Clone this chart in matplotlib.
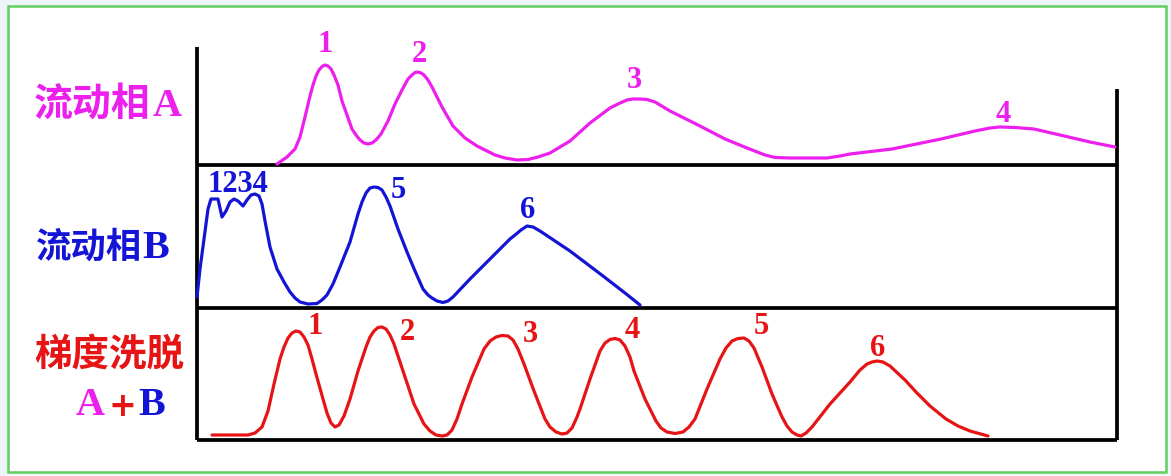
import matplotlib
matplotlib.use("Agg")
import matplotlib.pyplot as plt
from matplotlib.patches import Rectangle

# ---------------- data (time units, signal units) ----------------
# Mobile phase A chromatogram (magenta)
a_time = [80, 90, 98, 103, 108, 113, 116, 119, 122, 125, 128, 131, 134, 137, 141, 145,
          150, 155, 159, 163, 167, 171, 175, 179, 184, 191, 198, 205, 211, 215, 218, 221,
          224, 227, 231, 235, 245, 256, 268, 280, 298, 308, 320, 331, 341, 353, 373, 393,
          413, 423, 430, 436, 443, 450, 458, 473, 503, 528, 550, 568, 578, 593, 630, 643,
          653, 695, 744, 778, 793, 803, 818, 837, 863, 893, 918]
a_signal = [1, 8, 16, 28, 48, 69, 80, 89, 95, 98.5, 100, 99, 96, 90, 80, 64,
            50, 36, 30, 25, 22, 21, 22, 25, 31, 44, 61, 75, 86, 90, 92.5, 93,
            92, 90, 85, 78, 58, 39, 27, 19, 10, 7, 5, 5.5, 8, 12, 24, 42,
            57, 62, 65, 66, 66, 65.5, 63, 54, 39, 26, 17, 10, 7.5, 7, 7, 9,
            11, 16, 26, 34, 37, 38, 37.5, 36, 30, 23, 18]
a_peak_names = ["1", "2", "3", "4"]

# Mobile phase B chromatogram (blue)
b_time = [0, 3, 7, 11, 14, 21, 25, 29, 33, 37, 41, 46, 50, 54, 58, 62, 65, 68, 73, 80,
          87, 93, 98, 103, 111, 120, 125, 130, 136, 143, 153, 161, 165, 169, 173, 177,
          181, 185, 189, 193, 201, 210, 218, 226, 231, 235, 240, 246, 251, 256, 273,
          293, 313, 318, 324, 330, 336, 343, 373, 406, 428, 443]
b_signal = [11, 39, 69, 99, 109, 109, 91, 97, 106, 109, 107, 102, 108, 113, 114, 112,
            104, 87, 61, 39, 26, 16, 10, 6, 4, 4.5, 8, 13, 24, 41, 66, 94, 106, 115,
            120, 121, 120.5, 118, 111, 102, 79, 56, 37, 19, 13, 10, 7, 5.5, 7, 11, 29,
            49, 69, 73, 78, 82, 81, 77, 57, 32, 15, 3]
b_peak_names = ["1234", "5", "6"]

# Gradient elution A+B chromatogram (red)
g_time = [15, 51, 58, 65, 71, 77, 83, 87, 91, 95, 99, 103, 107, 111, 115, 119, 126, 130,
          134, 138, 142, 147, 153, 161, 169, 173, 177, 181, 185, 189, 193, 197, 207, 217,
          227, 233, 239, 245, 250, 255, 260, 265, 275, 287, 293, 299, 305, 311, 316, 321,
          327, 337, 348, 353, 359, 365, 370, 375, 380, 383, 393, 403, 408, 413, 418, 423,
          428, 433, 437, 448, 459, 464, 470, 478, 486, 492, 498, 510, 523, 529, 535, 541,
          547, 552, 557, 565, 575, 585, 590, 595, 600, 604, 609, 615, 633, 653, 663, 670,
          675, 680, 686, 693, 708, 719, 733, 749, 761, 773, 791]
g_signal = [5, 5, 7, 13, 29, 56, 81, 93, 102, 107, 109, 108, 103, 95, 81, 66, 41, 27,
            17, 13, 15, 24, 41, 69, 93, 103, 109, 112.5, 113, 111, 105, 96, 66, 36,
            16, 9, 5, 4, 5, 10, 21, 36, 63, 91, 99, 103, 104.5, 104, 100, 91,
            76, 49, 21, 13, 8, 6, 7, 12, 23, 31, 61, 89, 97, 100.5, 101.5, 100,
            94, 83, 69, 41, 19, 12, 8, 6.5, 8, 13, 21, 51, 81, 92, 99, 101.5,
            102, 99, 92, 73, 46, 23, 14, 8, 5, 4, 7, 13, 36, 58, 70, 76,
            78, 79, 78, 74, 60, 48, 34, 21, 14, 9, 4]
g_peak_names = ["1", "2", "3", "4", "5", "6"]

row_labels = ["流动相A", "流动相B", "梯度洗脱"]

# ---------------- styling ----------------
W, H = 1171, 477
MAG = "#ec1fec"
BLUE = "#1414d6"
RED = "#e61414"
LW = 2.3
FRAME_LW = 2.7
DIGIT_FONT = dict(family="Liberation Serif", weight="bold")
CJK_FAMILY = ["Noto Sans CJK SC", "DejaVu Sans"]
LAT_FAMILY = "Liberation Serif"

fig = plt.figure(figsize=(W / 100, H / 100), dpi=100)
fig.patch.set_facecolor("#eef5f8")

# background / overlay axes in pixel units
bg = fig.add_axes([0, 0, 1, 1])
bg.set_xlim(0, W)
bg.set_ylim(H, 0)
bg.axis("off")
bg.add_patch(Rectangle((8, 7), 1158, 466, facecolor="white", edgecolor="#5fcf5f", lw=1.8))

x0, x1 = 197, 1117
yA_top, yA, yB, yG = 30, 166, 309, 441
frame = dict(color="black", lw=FRAME_LW, solid_capstyle="butt")
bg.plot([x0, x0], [48, yG], **frame)
bg.plot([x1, x1], [90, yG], **frame)
for yy in (yA, yB, yG):
    bg.plot([x0, x1], [yy, yy], **frame)


def panel(top, bottom):
    ax = fig.add_axes([x0 / W, (H - bottom) / H, (x1 - x0) / W, (bottom - top) / H])
    ax.set_xlim(0, x1 - x0)
    ax.set_ylim(0, bottom - top)
    ax.axis("off")
    ax.patch.set_alpha(0)
    return ax


axA = panel(yA_top, yA)
axB = panel(yA, yB)
axG = panel(yB, yG)

line_kw = dict(lw=LW, solid_joinstyle="round", solid_capstyle="round", clip_on=False)
axA.plot(a_time, a_signal, color=MAG, **line_kw)
axB.plot(b_time, b_signal, color=BLUE, **line_kw)
axG.plot(g_time, g_signal, color=RED, **line_kw)

# peak labels (positions in panel data units)
a_lab_pos = [(128, 121), (222, 112), (437, 85), (806, 51)]
b_lab_pos = [(41, 125), (201, 119), (331, 98)]
g_lab_pos = [(118, 115), (210, 109), (333, 106), (435, 110), (564, 114), (681, 93)]
for ax, names, pos, col in ((axA, a_peak_names, a_lab_pos, MAG),
                            (axB, b_peak_names, b_lab_pos, BLUE),
                            (axG, g_peak_names, g_lab_pos, RED)):
    for n, (px, py) in zip(names, pos):
        ax.text(px, py, n, color=col, fontsize=22, ha="center", va="center",
                clip_on=False, **DIGIT_FONT)

# row labels (left): Chinese part + Latin letter
bg.text(34, 104, row_labels[0][:3], color=MAG, fontsize=28, family=CJK_FAMILY,
        weight="bold", ha="left", va="center")
bg.text(153, 106, row_labels[0][3:], color=MAG, fontsize=29, family=LAT_FAMILY,
        weight="bold", ha="left", va="center")
bg.text(36, 247, row_labels[1][:3], color=BLUE, fontsize=25.5, family=CJK_FAMILY,
        weight="bold", ha="left", va="center")
bg.text(142, 249, row_labels[1][3:], color=BLUE, fontsize=29, family=LAT_FAMILY,
        weight="bold", ha="left", va="center")
bg.text(34, 354, row_labels[2], color=RED, fontsize=27, family=CJK_FAMILY,
        weight="bold", ha="left", va="center")
# "A+B" in three colours
bg.text(76, 406, "A", color=MAG, fontsize=29, weight="bold",
        family=LAT_FAMILY, ha="left", va="center")
bg.text(122, 407, "+", color=RED, fontsize=24, weight="bold",
        family="DejaVu Sans", ha="center", va="center")
bg.text(138, 406, "B", color=BLUE, fontsize=29, weight="bold",
        family=LAT_FAMILY, ha="left", va="center")

fig.savefig("out.png", dpi=100, facecolor=fig.get_facecolor())
